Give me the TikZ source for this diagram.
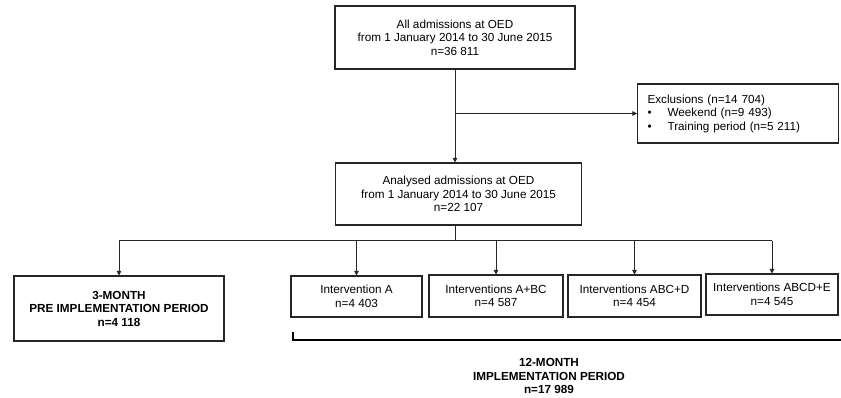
\documentclass[tikz,border=0pt]{standalone}
\usepackage{fontspec}
\setmainfont{Liberation Sans}
\usetikzlibrary{arrows.meta,positioning}

\begin{document}
\begin{tikzpicture}[
    x=0.03cm, y=-0.03cm,
    flowbox/.style={draw=black!85, line width=0.9pt, align=center, inner sep=1pt, font=\fontsize{10}{11.5}\selectfont},
    link/.style={line width=0.7pt, draw=black!85},
    arr/.style={link, -{Triangle[length=4pt, width=4pt]}}
  ]
  \useasboundingbox (0,0) rectangle (841,398);

  \node[flowbox, minimum width=7.2cm, minimum height=1.89cm] (all) at (455,37.5) {All admissions at OED\\from 1 January 2014 to 30 June 2015\\n=36 811};

  \node[flowbox, align=left, text width=5.43cm, inner xsep=0.3cm, minimum height=1.77cm, anchor=west] (excl) at (637,113.5) {Exclusions (n=14 704)\\
    \makebox[0.6cm][l]{\textbullet}Weekend (n=9 493)\\
    \makebox[0.6cm][l]{\textbullet}Training period (n=5 211)};

  \node[flowbox, minimum width=7.38cm, minimum height=1.86cm] (anal) at (458.5,194) {Analysed admissions at OED\\from 1 January 2014 to 30 June 2015\\n=22 107};

  \node[flowbox, font=\fontsize{10}{11.5}\selectfont\bfseries, minimum width=6.3cm, minimum height=1.95cm] (pre) at (119,308.5) {3-MONTH\\PRE IMPLEMENTATION PERIOD\\n=4 118};

  \node[flowbox, minimum width=3.93cm, minimum height=1.23cm] (intA) at (356.5,296.5) {Intervention A\\n=4 403};
  \node[flowbox, minimum width=4.02cm, minimum height=1.26cm] (intB) at (496,296) {Interventions A+BC\\n=4 587};
  \node[flowbox, minimum width=3.99cm, minimum height=1.26cm] (intC) at (634.5,296) {Interventions ABC+D\\n=4 454};
  \node[flowbox, minimum width=3.96cm, minimum height=1.23cm] (intD) at (772,294.5) {Interventions ABCD+E\\n=4 545};

  \node[font=\fontsize{10}{11.5}\selectfont\bfseries, align=center] (impl) at (549,376) {12-MONTH\\IMPLEMENTATION PERIOD\\n=17 989};

  % flow
  \draw[arr] (all.south) -- (all.south |- anal.north);
  \coordinate (split) at (all.south |- excl.west);
  \draw[arr] (split) -- (excl.west);

  \draw[link] (all.south |- anal.south) -- ++(0,15) coordinate (hub);
  \draw[link] (hub -| pre.north) -- (hub -| intD.north);
  \foreach \n in {pre,intA,intB,intC,intD}
    \draw[arr] (hub -| \n.north) -- (\n.north);

  % bracket
  \draw[line width=1.5pt] (293,332) -- (293,340) -- (841,340);
\end{tikzpicture}
\end{document}
